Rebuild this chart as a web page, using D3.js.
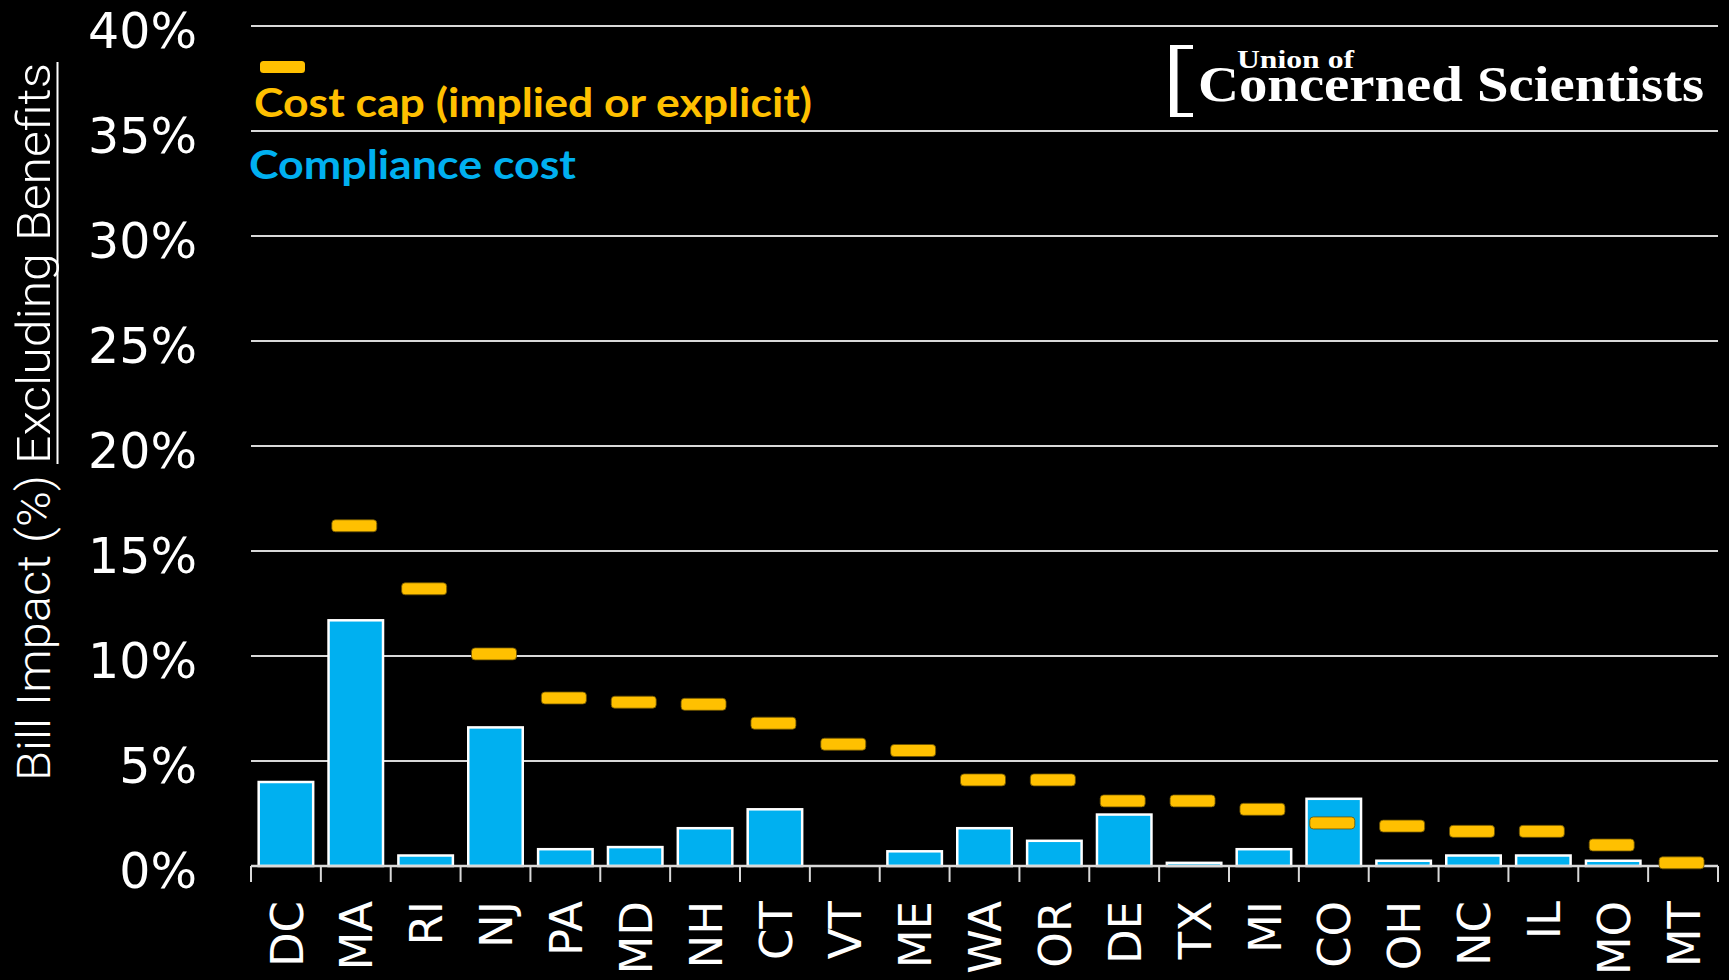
<!DOCTYPE html>
<html>
<head>
<meta charset="utf-8">
<script src="https://cdn.jsdelivr.net/npm/d3@7"></script>
<style>
html, body { margin: 0; padding: 0; background: #000; }
svg { display: block; }
</style>
</head>
<body>
<div id="chart"></div>
<script>
// data (percent of bill)
var states = ["DC","MA","RI","NJ","PA","MD","NH","CT","VT","ME","WA","OR","DE","TX","MI","CO","OH","NC","IL","MO","MT"];
var complianceCost = [4.0, 11.7, 0.5, 6.6, 0.8, 0.9, 1.8, 2.7, 0, 0.7, 1.8, 1.2, 2.45, 0.15, 0.8, 3.2, 0.25, 0.5, 0.5, 0.25, 0];
var costCap = [null, 16.2, 13.2, 10.1, 8.0, 7.8, 7.7, 6.8, 5.8, 5.5, 4.1, 4.1, 3.1, 3.1, 2.7, 2.05, 1.9, 1.65, 1.65, 1.0, 0.15];
var yTicks = [0, 5, 10, 15, 20, 25, 30, 35, 40];

var width = 1729, height = 980;
var blue = "#00B0F0", gold = "#FFC000", grid = "#D9D9D9";
var tickFont = "'DejaVu Sans', Verdana, sans-serif";

var svg = d3.select("#chart")
    .append("svg")
    .attr("width", width)
    .attr("height", height)
    .style("background", "#000");

svg.append("rect").attr("width", width).attr("height", height).attr("fill", "#000");

var x = d3.scaleBand()
    .domain(states)
    .range([251, 1718])
    .paddingInner(0.22)
    .paddingOuter(0.11);

var y = d3.scaleLinear()
    .domain([0, 40])
    .range([866, 26]);

// gridlines
svg.append("g")
    .selectAll("line")
    .data(yTicks.filter(function(d){ return d > 0; }))
    .enter()
    .append("line")
    .attr("x1", x.range()[0])
    .attr("x2", x.range()[1])
    .attr("y1", function(d){ return y(d); })
    .attr("y2", function(d){ return y(d); })
    .attr("stroke", grid)
    .attr("stroke-width", 2);

// y axis labels
var yAxis = svg.append("g")
    .attr("transform", "translate(" + x.range()[0] + ",0)")
    .call(d3.axisLeft(y).tickValues(yTicks).tickFormat(function(d){ return d + "%"; }).tickSize(0).tickPadding(54));
yAxis.select(".domain").remove();
yAxis.selectAll("text")
    .attr("fill", "#fff")
    .attr("dy", "0.43em")
    .style("font-family", tickFont)
    .style("font-size", "49px");

// bars
var rows = states.map(function(s, i){ return {state: s, cost: complianceCost[i], cap: costCap[i]}; });

svg.append("g")
    .selectAll("rect")
    .data(rows.filter(function(d){ return d.cost > 0; }))
    .enter()
    .append("rect")
    .attr("x", function(d){ return x(d.state); })
    .attr("y", function(d){ return y(d.cost); })
    .attr("width", x.bandwidth())
    .attr("height", function(d){ return y(0) - y(d.cost); })
    .attr("fill", blue)
    .attr("stroke", "#fff")
    .attr("stroke-width", 2.5);

// x axis line + boundary ticks
var step = x.step();
svg.append("line")
    .attr("x1", x.range()[0]).attr("x2", x.range()[1])
    .attr("y1", y(0)).attr("y2", y(0))
    .attr("stroke", grid).attr("stroke-width", 2.5);

svg.append("g")
    .selectAll("line")
    .data(d3.range(states.length + 1))
    .enter()
    .append("line")
    .attr("x1", function(i){ return x.range()[0] + i * step; })
    .attr("x2", function(i){ return x.range()[0] + i * step; })
    .attr("y1", y(0))
    .attr("y2", y(0) + 16)
    .attr("stroke", grid)
    .attr("stroke-width", 2);

// cost cap dashes
svg.append("g")
    .selectAll("rect")
    .data(rows.filter(function(d){ return d.cap != null; }))
    .enter()
    .append("rect")
    .attr("x", function(d){ return x(d.state) + x.bandwidth() / 2 - 24; })
    .attr("y", function(d){ return y(d.cap) - 6; })
    .attr("width", 45)
    .attr("height", 12)
    .attr("rx", 3.5)
    .attr("fill", gold)
    .attr("stroke", "#6b5200")
    .attr("stroke-width", 0.8);

// x labels
var xAxis = svg.append("g")
    .attr("transform", "translate(0," + y(0) + ")")
    .call(d3.axisBottom(x).tickSize(0));
xAxis.select(".domain").remove();
xAxis.selectAll("text")
    .attr("fill", "#fff")
    .attr("x", -35)
    .attr("y", 0)
    .attr("dy", "0.37em")
    .attr("transform", "rotate(-90)")
    .style("text-anchor", "end")
    .style("font-family", tickFont)
    .style("font-size", "45px");

// y axis title
var titleFont = "Roboto, 'Liberation Sans', sans-serif";
svg.append("text")
    .attr("transform", "translate(50,781) rotate(-90)")
    .attr("fill", "#fff")
    .attr("textLength", 306)
    .attr("lengthAdjust", "spacingAndGlyphs")
    .style("font-family", titleFont)
    .style("font-weight", 300)
    .style("font-size", "47px")
    .text("Bill Impact (%)");
svg.append("text")
    .attr("transform", "translate(50,464) rotate(-90)")
    .attr("fill", "#fff")
    .attr("textLength", 401)
    .attr("lengthAdjust", "spacingAndGlyphs")
    .style("font-family", titleFont)
    .style("font-weight", 300)
    .style("font-size", "47px")
    .text("Excluding Benefits");
svg.append("line")
    .attr("x1", 57.5).attr("x2", 57.5)
    .attr("y1", 464).attr("y2", 62)
    .attr("stroke", "#fff").attr("stroke-width", 2);

// legend
svg.append("rect")
    .attr("x", 260).attr("y", 61)
    .attr("width", 45).attr("height", 12)
    .attr("rx", 3.5)
    .attr("fill", gold);
svg.append("text")
    .attr("x", 254).attr("y", 117)
    .attr("fill", gold)
    .attr("textLength", 558)
    .attr("lengthAdjust", "spacingAndGlyphs")
    .style("font-family", "Lato, 'Open Sans', sans-serif")
    .style("font-weight", 700)
    .style("font-size", "40px")
    .text("Cost cap (implied or explicit)");
svg.append("text")
    .attr("x", 249).attr("y", 179)
    .attr("fill", blue)
    .attr("textLength", 327)
    .attr("lengthAdjust", "spacingAndGlyphs")
    .style("font-family", "Lato, 'Open Sans', sans-serif")
    .style("font-weight", 700)
    .style("font-size", "40px")
    .text("Compliance cost");

// logo
var logo = svg.append("g");
logo.append("path")
    .attr("d", "M1193,45 H1170 V117 H1193 V113 H1177.5 V49 H1193 Z")
    .attr("fill", "#fff");
logo.append("text")
    .attr("x", 1237).attr("y", 68)
    .attr("fill", "#fff")
    .attr("textLength", 117)
    .attr("lengthAdjust", "spacingAndGlyphs")
    .style("font-family", "'Liberation Serif', 'DejaVu Serif', serif")
    .style("font-weight", 700)
    .style("font-size", "26px")
    .text("Union of");
logo.append("text")
    .attr("x", 1198).attr("y", 101)
    .attr("fill", "#fff")
    .attr("textLength", 506)
    .attr("lengthAdjust", "spacingAndGlyphs")
    .style("font-family", "'Liberation Serif', 'DejaVu Serif', serif")
    .style("font-weight", 700)
    .style("font-size", "50px")
    .text("Concerned Scientists");
</script>
</body>
</html>
